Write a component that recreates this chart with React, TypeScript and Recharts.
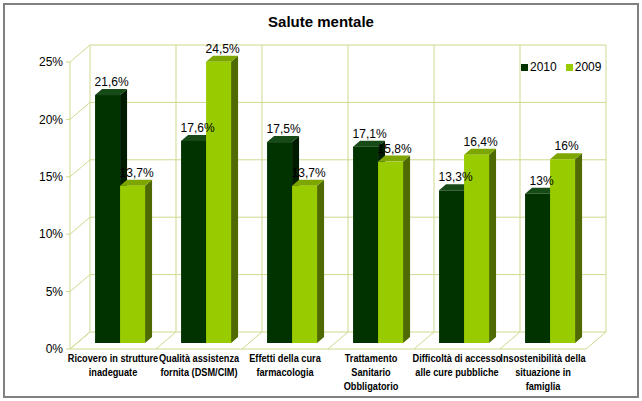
import React from 'react';
import { BarChart, Bar, XAxis, YAxis, CartesianGrid, LabelList } from 'recharts';

const categoryLines: string[][] = [
  ['Ricovero in strutture', 'inadeguate'],
  ['Qualità assistenza', 'fornita (DSM/CIM)'],
  ['Effetti della cura', 'farmacologia'],
  ['Trattamento', 'Sanitario', 'Obbligatorio'],
  ['Difficoltà di accesso', 'alle cure pubbliche'],
  ['Insostenibilità della', 'situazione in', 'famiglia'],
];
const categories = categoryLines.map(l => l.join(' '));
const values2010 = [21.6, 17.6, 17.5, 17.1, 13.3, 13];
const values2009 = [13.7, 24.5, 13.7, 15.8, 16.4, 16];
const yTicks = [0, 5, 10, 15, 20, 25];

const data = categories.map((name, i) => ({
  name,
  v2010: values2010[i],
  v2009: values2009[i],
}));

const FONT = "'Liberation Sans', Arial, sans-serif";
const GRID = '#cfd98f';
// back wall offset and bar depth
const WX = 20;
const WY = 17;
const BX = 7;
const BY = 6;

const colors = {
  v2010: { front: '#003300', side: '#001c00', top: '#164a16' },
  v2009: { front: '#99cc00', side: '#4e6a00', top: '#7ea600' },
};

const make3DBar = (c: { front: string; side: string; top: string }) => (props: any) => {
  const { x, y, width, height } = props;
  if (!width || height == null) return <g />;
  const fx = x + BX;
  const fy = y - BY;
  return (
    <g>
      <polygon
        points={`${fx + width},${fy} ${fx + width + BX},${fy - BY} ${fx + width + BX},${fy - BY + height} ${fx + width},${fy + height}`}
        fill={c.side}
      />
      <polygon
        points={`${fx},${fy} ${fx + width},${fy} ${fx + width + BX},${fy - BY} ${fx + BX},${fy - BY}`}
        fill={c.top}
      />
      <rect x={fx} y={fy} width={width} height={height} fill={c.front} />
    </g>
  );
};

const fmt = (v: number) => String(v).replace('.', ',') + '%';

const BarLabel = (props: any) => {
  const { x, y, width, value } = props;
  return (
    <text
      x={x + BX + width / 2 + 4}
      y={y - BY - 9}
      textAnchor="middle"
      fontSize={12}
      fontFamily={FONT}
      fill="#000"
    >
      {fmt(value)}
    </text>
  );
};

const horizontalLine = (p: any) => {
  const { x1, x2, y1 } = p;
  return (
    <g key={`h-${y1}`}>
      <line x1={x1} y1={y1} x2={x1 + WX} y2={y1 - WY} stroke={GRID} strokeWidth={1} />
      <line x1={x1 + WX} y1={y1 - WY} x2={x2 + WX} y2={y1 - WY} stroke={GRID} strokeWidth={1} />
    </g>
  );
};

const verticalLine = (p: any) => {
  const { x1, y1, y2 } = p;
  return (
    <g key={`v-${x1}`}>
      <line x1={x1 + WX} y1={y1 - WY} x2={x1 + WX} y2={y2 - WY} stroke={GRID} strokeWidth={1} />
      <line x1={x1} y1={y2} x2={x1 + WX} y2={y2 - WY} stroke={GRID} strokeWidth={1} />
    </g>
  );
};

// condensed bold labels, squeezed horizontally
const XTick = (props: any) => {
  const { x, y, payload } = props;
  const i = categories.indexOf(payload.value);
  const lines = categoryLines[i] || [payload.value];
  return (
    <g transform={`translate(${x},${y}) scale(0.8,1)`}>
      {lines.map((l, k) => (
        <text
          key={k}
          x={0}
          y={13 + k * 14}
          textAnchor="middle"
          fontSize={11.5}
          fontWeight="bold"
          fontFamily={FONT}
          fill="#000"
        >
          {l}
        </text>
      ))}
    </g>
  );
};

export default function App() {
  return (
    <div style={{ position: 'absolute', left: 0, top: 0, width: 642, height: 401, background: '#fff' }}>
      <div
        style={{
          position: 'absolute',
          left: 3,
          top: 3,
          width: 632,
          height: 391,
          border: '2px solid #808080',
        }}
      />
      <div
        style={{
          position: 'absolute',
          top: 13,
          left: 0,
          width: 642,
          textAlign: 'center',
          fontFamily: FONT,
          fontWeight: 'bold',
          fontSize: 15,
          color: '#000',
        }}
      >
        Salute mentale
      </div>
      <div
        style={{
          position: 'absolute',
          top: 60,
          left: 521,
          display: 'flex',
          alignItems: 'center',
          fontFamily: FONT,
          fontSize: 12,
          color: '#000',
          zIndex: 2,
        }}
      >
        <span style={{ width: 7, height: 7, background: colors.v2010.front, display: 'inline-block', marginRight: 2 }} />
        <span style={{ marginRight: 9 }}>2010</span>
        <span style={{ width: 7, height: 7, background: colors.v2009.front, display: 'inline-block', marginRight: 2 }} />
        <span>2009</span>
      </div>
      <BarChart
        width={642}
        height={401}
        data={data}
        margin={{ top: 62, right: 56, left: 0, bottom: 0 }}
        barCategoryGap="21%"
        barGap={0}
      >
        <CartesianGrid
          horizontal={horizontalLine}
          vertical={verticalLine}
          verticalCoordinatesGenerator={({ offset }: any) => {
            const n = categories.length;
            const pts: number[] = [];
            for (let i = 0; i <= n; i++) pts.push(offset.left + (i * offset.width) / n);
            return pts;
          }}
        />
        <XAxis
          dataKey="name"
          height={52}
          tickLine={false}
          tickSize={0}
          tickMargin={0}
          interval={0}
          axisLine={{ stroke: GRID }}
          tick={<XTick />}
        />
        <YAxis
          width={70}
          domain={[0, 25]}
          ticks={yTicks}
          tickFormatter={(v: number) => v + '%'}
          tick={{ fontSize: 12, fontFamily: FONT, fill: '#000' }}
          tickSize={4}
          tickMargin={3}
          tickLine={{ stroke: GRID }}
          axisLine={{ stroke: GRID }}
        />
        <Bar dataKey="v2010" name="2010" fill={colors.v2010.front} shape={make3DBar(colors.v2010)} isAnimationActive={false}>
          <LabelList dataKey="v2010" content={<BarLabel />} />
        </Bar>
        <Bar dataKey="v2009" name="2009" fill={colors.v2009.front} shape={make3DBar(colors.v2009)} isAnimationActive={false}>
          <LabelList dataKey="v2009" content={<BarLabel />} />
        </Bar>
      </BarChart>
    </div>
  );
}
